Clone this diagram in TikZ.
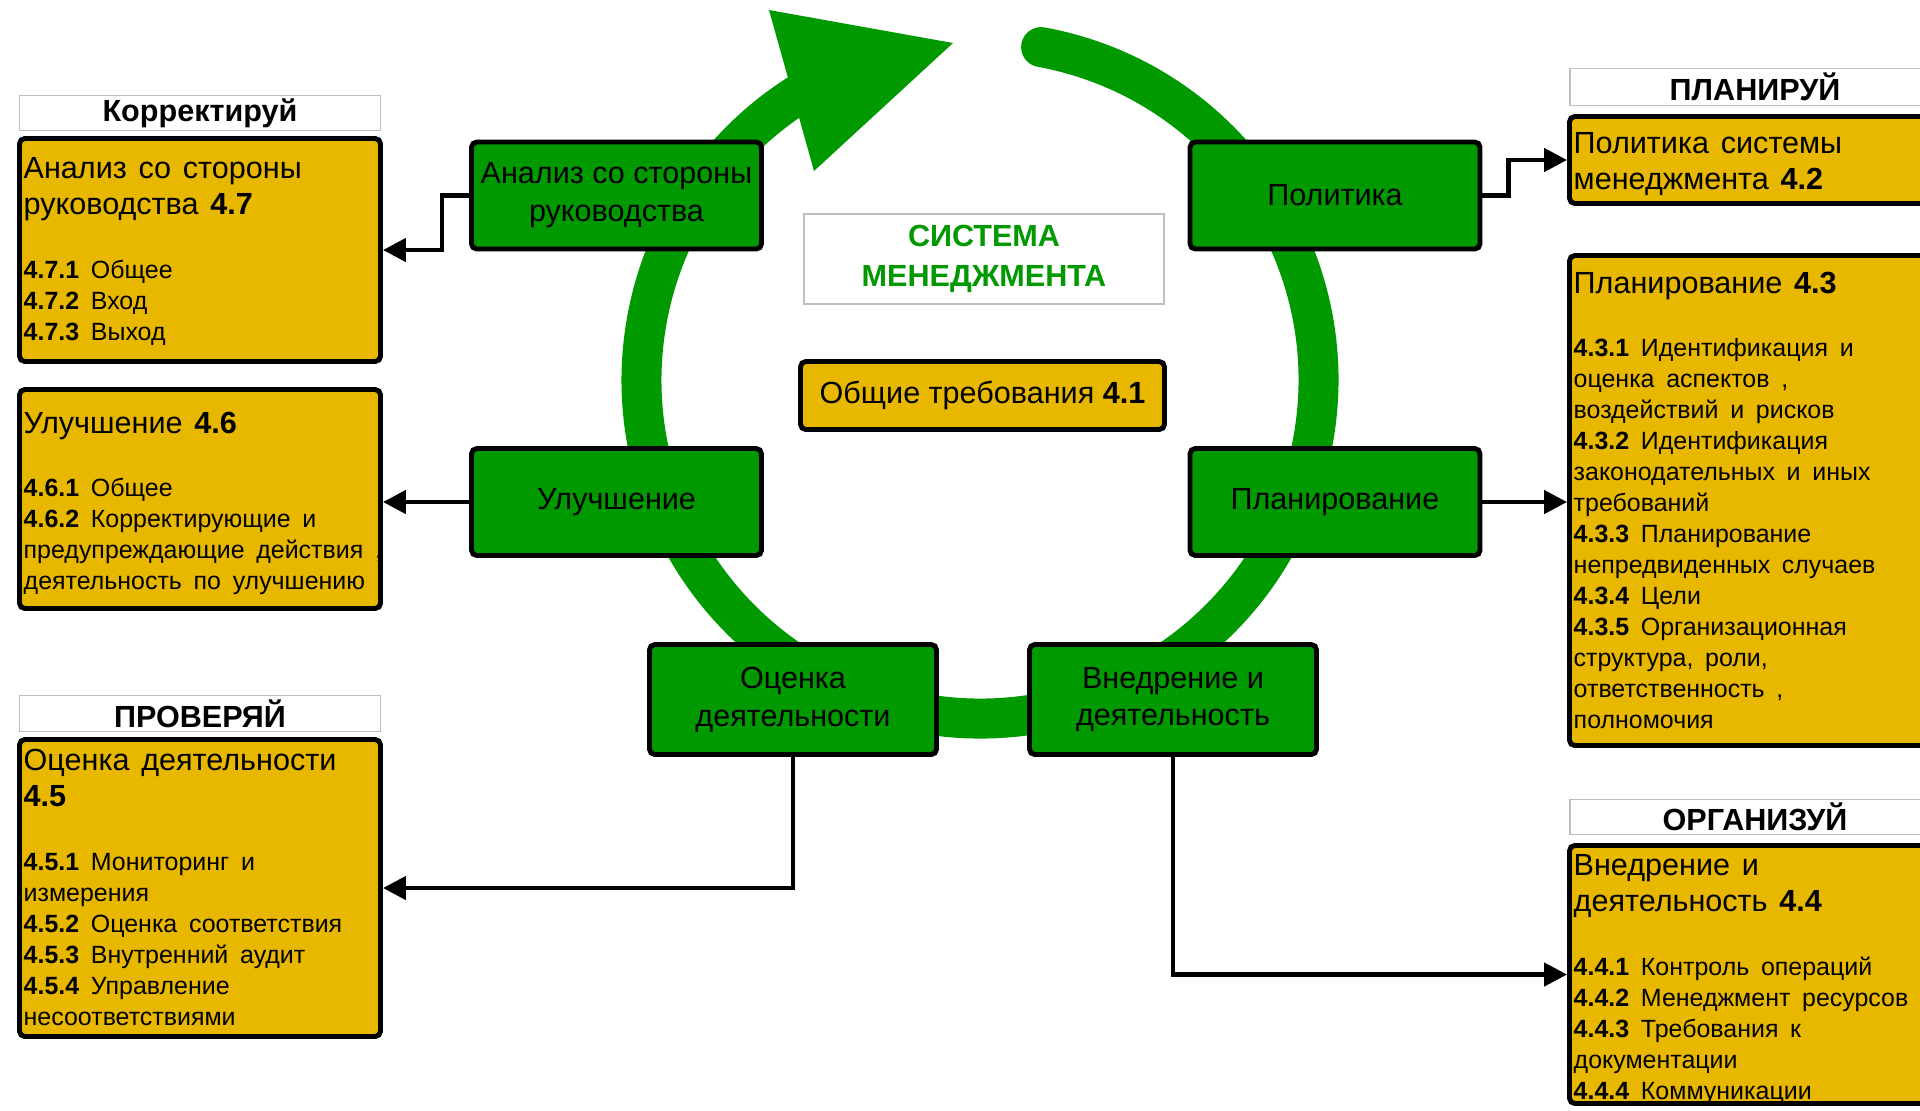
\documentclass[tikz,border=0pt]{standalone}
\usepackage{fontspec}
\setmainfont{Liberation Sans}
\usepackage{xcolor}
\usepackage{tikz}
\usetikzlibrary{positioning,calc,arrows.meta}

\definecolor{vert}{RGB}{0,153,0}
\definecolor{jaune}{RGB}{232,184,0}

\newcommand{\fgrand}{\fontsize{8.7}{10.4}\selectfont}
\newcommand{\fpetit}{\fontsize{7.1}{8.8}\selectfont}
\newcommand{\saut}{\par\vspace{9.4pt}}

\tikzset{
	vbox/.style={draw=black, fill=vert, line width=1.4pt, rounded corners=1.5pt,
		minimum width=2.90cm, minimum height=1.07cm, inner sep=0pt, align=center,
		font=\fontsize{8.7}{10.8}\selectfont},
	jbox/.style={draw=black, fill=jaune, line width=1.4pt, rounded corners=1.5pt, inner sep=0pt},
	jtexte/.style={anchor=base west, inner sep=0pt, text width=4.3cm},
	titre/.style={draw=black!25, fill=white, line width=0.5pt, inner sep=0pt, font=\bfseries\fgrand},
	anneau/.style={draw=vert, line width=0.40cm, line cap=round},
	lien/.style={draw=black, line width=1.3pt, -{Triangle[length=6.5pt,width=6.5pt]}}
}

\begin{document}
\begin{tikzpicture}
	\def\cx{9.80}
	\def\cy{-3.80}
	\def\R{3.385}
\useasboundingbox (0,0) rectangle (19.2,-11.1);
\clip (0,0) rectangle (19.2,-11.1); % coupe les boites de droite

%Anneau vert
\coordinate (centre) at (\cx,\cy);
\draw[anneau] ($(centre)+(79.6:\R)$) arc[start angle=79.6, end angle=-240, radius=\R];
\fill[vert] (7.69,-0.10) -- (9.53,-0.43) -- (8.14,-1.71) -- cycle;

%Etapes du cycle
\node[vbox] (anal) at (6.165,-1.955) {Анализ со стороны\\руководства};
\node[vbox] (polit) at (13.35,-1.955) {Политика};
\node[vbox] (uluch) at (6.165,-5.02) {Улучшение};
\node[vbox] (plan) at (13.35,-5.02) {Планирование};
\node[vbox, minimum width=2.87cm, minimum height=1.10cm] (otsen) at (7.93,-6.995) {Оценка\\деятельности};
\node[vbox, minimum width=2.87cm, minimum height=1.10cm] (vned) at (11.73,-6.995) {Внедрение и\\деятельность};

%Centre
\node[titre, minimum width=3.60cm, minimum height=0.90cm, text=vert,
	font=\bfseries\fontsize{8.7}{11.5}\selectfont, align=center] (sys) at (9.84,-2.59) {СИСТЕМА\\МЕНЕДЖМЕНТА};
\node[jbox, minimum width=3.64cm, minimum height=0.68cm, font=\fgrand] (b41) at (9.825,-3.955) {Общие требования \textbf{4.1}};

%Titres
\node[titre, minimum width=3.61cm, minimum height=0.35cm] (hkor) at (2.00,-1.13) {Корректируй};
\node[titre, minimum width=3.61cm, minimum height=0.36cm] (hprov) at (2.00,-7.135) {ПРОВЕРЯЙ};
\node[titre, minimum width=3.70cm, minimum height=0.37cm] (hplan) at (17.55,-0.87) {ПЛАНИРУЙ};
\node[titre, minimum width=3.70cm, minimum height=0.35cm] (horg) at (17.55,-8.17) {ОРГАНИЗУЙ};

%Boites jaunes
\node[jbox, minimum width=3.61cm, minimum height=2.23cm] (b47) at (2.00,-2.50) {};
\node[jbox, minimum width=3.61cm, minimum height=2.19cm] (b46) at (2.00,-4.99) {};
\node[jbox, minimum width=3.61cm, minimum height=2.97cm] (b45) at (2.00,-8.88) {};
\node[jbox, minimum width=3.68cm, minimum height=0.87cm] (b42) at (17.535,-1.60) {};
\node[jbox, minimum width=3.68cm, minimum height=4.90cm] (b43) at (17.535,-5.005) {};
\node[jbox, minimum width=3.68cm, minimum height=2.58cm] (b44) at (17.535,-9.745) {};

%Textes des boites
\node[jtexte] (t47) at (0.23,-1.78) {\fgrand Анализ со стороны\\руководства \textbf{4.7}\saut
	\fpetit\textbf{4.7.1} Общее\\\textbf{4.7.2} Вход\\\textbf{4.7.3} Выход\par};
\node[jtexte] (t46) at (0.23,-4.33) {\fgrand Улучшение \textbf{4.6}\saut
	\fpetit\textbf{4.6.1} Общее\\\textbf{4.6.2} Корректирующие и\\предупреждающие действия ,\\деятельность по улучшению\par};
\node[jtexte] (t45) at (0.23,-7.70) {\fgrand Оценка деятельности\\\textbf{4.5}\saut
	\fpetit\textbf{4.5.1} Мониторинг и\\измерения\\\textbf{4.5.2} Оценка соответствия\\\textbf{4.5.3} Внутренний аудит\\\textbf{4.5.4} Управление\\несоответствиями\par};
\node[jtexte] (t42) at (15.73,-1.53) {\fgrand Политика системы\\менеджмента \textbf{4.2}\par};
\node[jtexte] (t43) at (15.73,-2.93) {\fgrand Планирование \textbf{4.3}\saut
	\fpetit\textbf{4.3.1} Идентификация и\\оценка аспектов ,\\воздействий и рисков\\\textbf{4.3.2} Идентификация\\законодательных и иных\\требований\\\textbf{4.3.3} Планирование\\непредвиденных случаев\\\textbf{4.3.4} Цели\\\textbf{4.3.5} Организационная\\структура, роли,\\ответственность ,\\полномочия\par};
\node[jtexte] (t44) at (15.73,-8.75) {\fgrand Внедрение и\\деятельность \textbf{4.4}\saut
	\fpetit\textbf{4.4.1} Контроль операций\\\textbf{4.4.2} Менеджмент ресурсов\\\textbf{4.4.3} Требования к\\документации\\\textbf{4.4.4} Коммуникации\par};

%Liaisons
\draw[lien] (anal.west) -- ++(-0.27,0) |- (b47.east);
\draw[lien] (uluch.west) -- (uluch.west -| b46.east);
\draw[lien] (otsen.south) |- (b45.east);
\draw[lien] (vned.south) |- (b44.west);
\draw[lien] (plan.east) -- (plan.east -| b43.west);
\draw[lien] (polit.east) -- ++(0.26,0) |- (b42.west);

\end{tikzpicture}
\end{document}
